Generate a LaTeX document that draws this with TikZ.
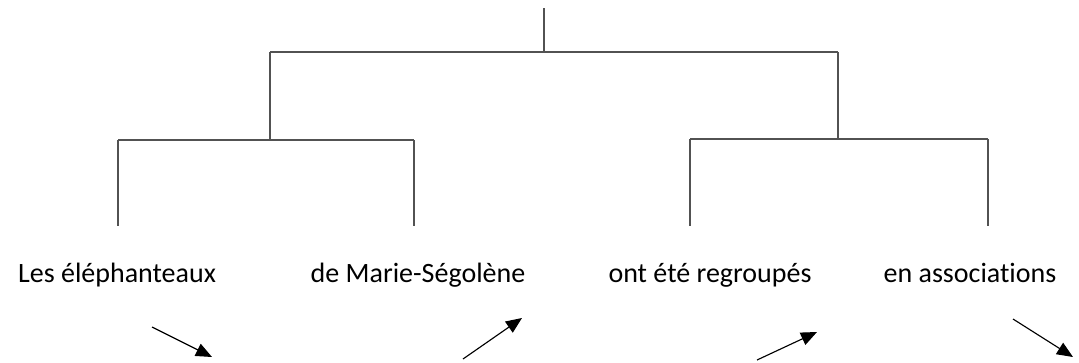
\documentclass[tikz,border=0pt]{standalone}
\usepackage{fontspec}
\setmainfont[Ligatures=NoCommon]{Carlito}
\usepackage{tikz}
\usetikzlibrary{arrows.meta}

\begin{document}
\begin{tikzpicture}[x=0.75pt,y=-0.75pt,>={Triangle[length=12pt,width=10pt]},
	branch/.style={draw=black!68, line width=1.1pt},
	word/.style={font=\fontsize{21}{25}\selectfont, anchor=base, inner sep=0pt}]
	\useasboundingbox (0,0) rectangle (1079,362);
	% tree
	\coordinate (root) at (544,8);
	\coordinate (top) at (544,52);
	\coordinate (topl) at (270,52);
	\coordinate (topr) at (838,52);
	\coordinate (gn) at (270,140);
	\coordinate (gnl) at (118,140);
	\coordinate (gnr) at (414,140);
	\coordinate (gv) at (838,139);
	\coordinate (gvl) at (690,139);
	\coordinate (gvr) at (988,139);
	\coordinate (lesup) at (118,226);
	\coordinate (marieup) at (414,226);
	\coordinate (regrup) at (690,226);
	\coordinate (assocup) at (988,226);
	\path [branch] (root) edge (top);
	\path [branch] (topl) edge (topr);
	\path [branch] (topl) edge (gn);
	\path [branch] (topr) edge (gv);
	\path [branch] (gnl) edge (gnr);
	\path [branch] (gvl) edge (gvr);
	\path [branch] (gnl) edge (lesup);
	\path [branch] (gnr) edge (marieup);
	\path [branch] (gvl) edge (regrup);
	\path [branch] (gvr) edge (assocup);
	% words
	\node [word] (les) at (117,282) {Les éléphanteaux};
	\node [word] (marie) at (418,282) {de Marie-Ségolène};
	\node [word] (regr) at (710,282) {ont été regroupés};
	\node [word] (assoc) at (970,282) {en associations};
	% arrows
	\coordinate (a1s) at (152,327);
	\coordinate (a1e) at (212,357);
	\coordinate (a2s) at (463,359);
	\coordinate (a2e) at (522,318);
	\coordinate (a3s) at (757,360);
	\coordinate (a3e) at (817,332);
	\coordinate (a4s) at (1013,319);
	\coordinate (a4e) at (1073,357);
	\path [->, line width=0.85pt] (a1s) edge (a1e);
	\path [->, line width=0.85pt] (a2s) edge (a2e);
	\path [->, line width=0.85pt] (a3s) edge (a3e);
	\path [->, line width=0.85pt] (a4s) edge (a4e);
\end{tikzpicture}
\end{document}
